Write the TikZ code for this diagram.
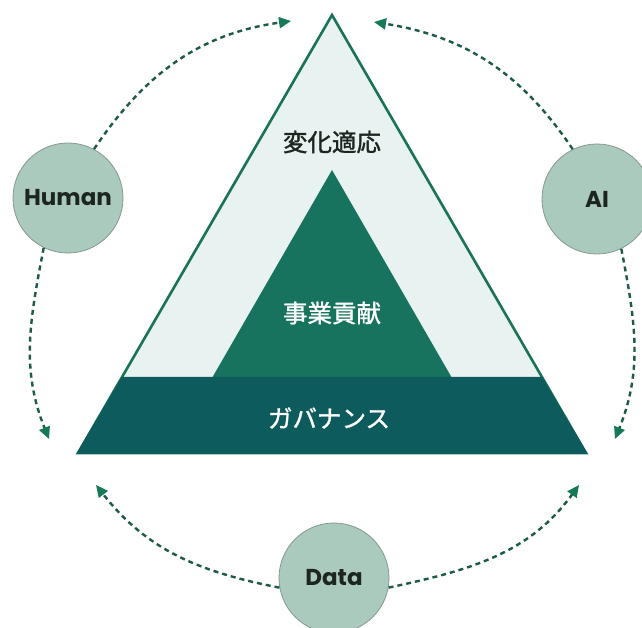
\documentclass[tikz,border=0pt]{standalone}
\usepackage{fontspec}
\usetikzlibrary{arrows.meta,calc}
\newfontfamily\cjk{Noto Sans CJK JP}[FakeBold=1.3]
\newfontfamily\lab{Poppins}
\definecolor{outerfill}{HTML}{E8F2F0}
\definecolor{outline}{HTML}{1A7358}
\definecolor{innerg}{HTML}{18735E}
\definecolor{bandg}{HTML}{0D5B5C}
\definecolor{circfill}{HTML}{A9CABC}
\definecolor{circedge}{HTML}{86988F}
\definecolor{arrline}{HTML}{1E5A4B}
\definecolor{arrtip}{HTML}{15795A}
\definecolor{darktext}{HTML}{1C2520}
\tikzset{
  agent/.style={circle, fill=circfill, draw=circedge, line width=0.8pt, minimum size=110pt, inner sep=0pt, font=\lab\bfseries\fontsize{23}{23}\selectfont, text=darktext},
  flow/.style={draw=arrline, line width=2.4pt, dash pattern=on 5pt off 4pt, -{Triangle[length=12pt,width=11pt,fill=arrtip,color=arrtip]}},
  jlab/.style={font=\cjk\fontsize{24.5}{24.5}\selectfont, inner sep=0pt}
}
\begin{document}
\begin{tikzpicture}[x=1pt,y=-1pt]
\clip (0,0) rectangle (642,628);
\fill[white] (0,0) rectangle (642,628);
% pyramid
\coordinate (A) at (332,15);
\coordinate (B) at (78,453);
\coordinate (C) at (586,453);
\filldraw[fill=outerfill, draw=outline, line width=2.6pt, line join=miter] (A) -- (B) -- (C) -- cycle;
\fill[innerg] (332,170) -- (212,378) -- (452,378) -- cycle;
\filldraw[fill=bandg, draw=bandg, line width=0.5pt] ($(A)!0.8265!(B)$) -- ($(A)!0.8265!(C)$) -- ($(C)+(1.2,0.5)$) -- ($(B)+(-1.2,0.5)$) -- cycle;
\node[jlab, text=darktext] (t1) at (332,142) {変化適応};
\node[jlab, text=white] (t2) at (332,313) {事業貢献};
\node[jlab, text=white] (t3) at (329,418) {ガバナンス};
% agents
\node[agent] (human) at (68,198) {Human};
\node[agent] (ai) at (597,199) {AI};
\node[agent] (data) at (334,578) {Data};
% arrow tips
\coordinate (e1) at (291,21);
\coordinate (e2) at (374,22);
\coordinate (e3) at (49,439);
\coordinate (e4) at (615,439);
\coordinate (e5) at (96,485);
\coordinate (e6) at (579,485);
\draw[flow] (human.62) to[out=56,in=188] (e1);
\draw[flow] (ai.116) to[out=124,in=-9] (e2);
\draw[flow] (human.244) to[out=259,in=112] (e3);
\draw[flow] (ai.296) to[out=-79,in=68] (e4);
\draw[flow] (data.190) to[out=169,in=-52] (e5);
\draw[flow] (data.350) to[out=12,in=-126] (e6);
\end{tikzpicture}
\end{document}
